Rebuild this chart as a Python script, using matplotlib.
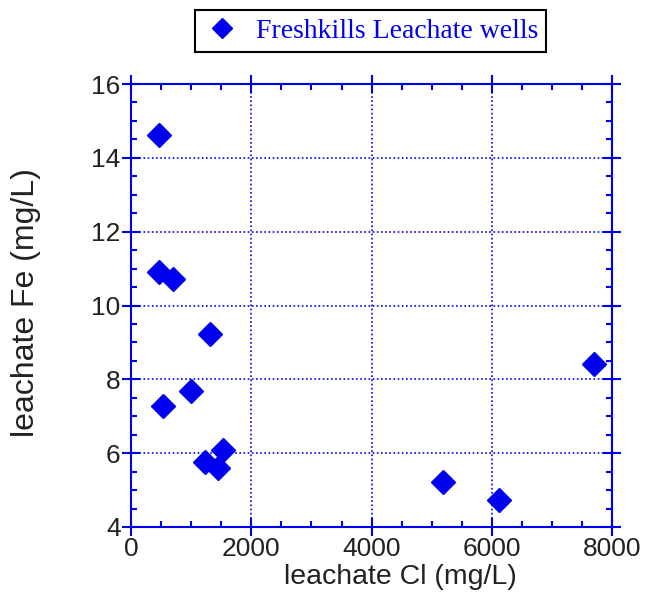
import matplotlib
matplotlib.use("Agg")
import matplotlib.pyplot as plt
from matplotlib.ticker import MultipleLocator
from matplotlib.lines import Line2D

cl = [466, 466, 704, 1314, 993, 538, 1525, 1231, 1453, 5180, 6123, 7692]
fe = [14.63, 10.91, 10.73, 9.24, 7.69, 7.27, 6.08, 5.76, 5.59, 5.21, 4.74, 8.41]
series_name = "Freshkills Leachate wells"
xlabel = "leachate Cl (mg/L)"
ylabel = "leachate Fe (mg/L)"

blue = "#0000F0"
plt.rcParams['font.family'] = ['Liberation Sans', 'DejaVu Sans']

fig = plt.figure(figsize=(6.51, 6.04), dpi=100)
ax = fig.add_axes([131/651, 1-527/604, (612.3-131)/651, (527-84)/604])

ax.plot(cl, fe, linestyle='none', marker='D', markersize=12, color=blue,
        clip_on=False, zorder=5)

ax.set_xlim(0, 8000)
ax.set_ylim(4, 16)
ax.xaxis.set_major_locator(MultipleLocator(2000))
ax.xaxis.set_minor_locator(MultipleLocator(500))
ax.yaxis.set_major_locator(MultipleLocator(2))
ax.yaxis.set_minor_locator(MultipleLocator(0.5))

for s in ax.spines.values():
    s.set_color(blue)
    s.set_linewidth(1.5)

ax.tick_params(which='major', direction='inout', length=13, width=1.5, color=blue,
               top=True, right=True, labelsize=19, labelcolor='#222222', pad=1)
ax.tick_params(which='minor', direction='in', length=4, width=1.5, color=blue,
               top=True, right=True)
ax.grid(True, which='major', linestyle=(0, (1, 1.5)), color=blue, linewidth=1.2)

ax.set_xlabel(xlabel, fontsize=20.5, color='#222222', labelpad=2)
ax.xaxis.label.set_x((400 - 131) / 481.3)
ax.set_ylabel(ylabel, fontsize=23, color='#222222', labelpad=36)
ax.yaxis.label.set_y((527 - 302.5) / 443)

handle = Line2D([], [], linestyle='none', marker='D', markersize=10, color=blue)
leg = fig.legend([handle], [series_name], loc='center',
                 bbox_to_anchor=(370.5/651, 1-31/604), frameon=True,
                 fancybox=False, edgecolor='black', framealpha=1, handletextpad=0.5,
                 prop={'family': 'Liberation Serif', 'size': 20}, borderpad=0.3,
                 handlelength=1.4, borderaxespad=0)
leg.get_frame().set_linewidth(1.5)
for t in leg.get_texts():
    t.set_color(blue)

fig.savefig("out.png", dpi=100)
